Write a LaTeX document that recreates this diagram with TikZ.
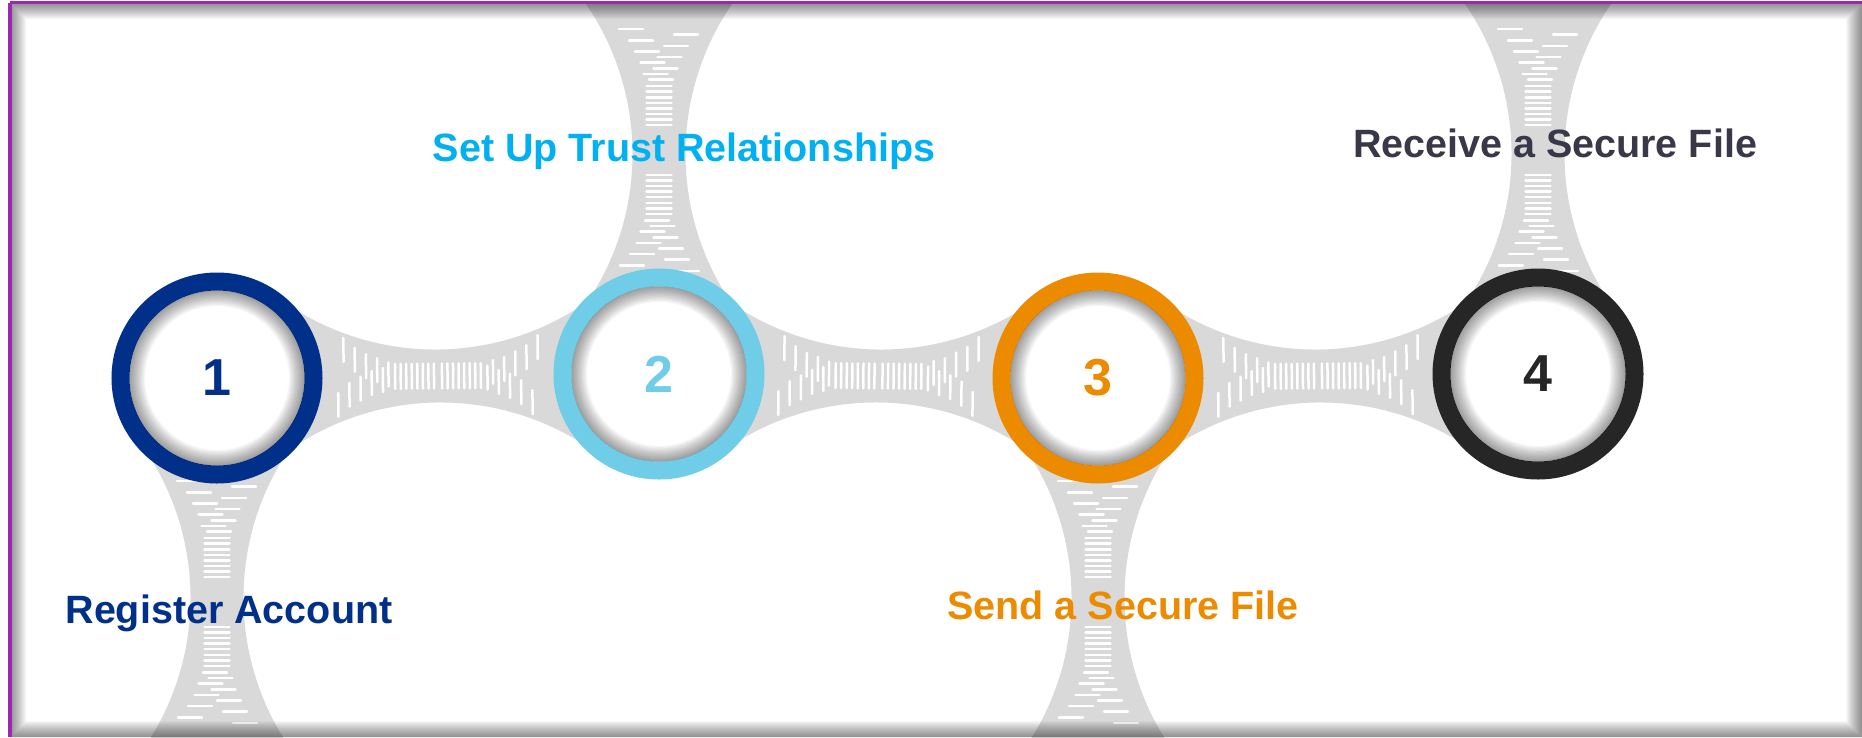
\documentclass[tikz,border=0pt]{standalone}
\usepackage{fontspec}
\setmainfont{Liberation Sans}
\definecolor{navy}{RGB}{0,48,138}
\definecolor{skyring}{RGB}{112,205,232}
\definecolor{skytext}{RGB}{0,176,240}
\definecolor{orng}{RGB}{236,139,0}
\definecolor{blk}{RGB}{38,38,38}
\definecolor{slate}{RGB}{57,56,72}
\definecolor{conngray}{RGB}{217,217,217}
\definecolor{framepurple}{RGB}{156,39,176}
\tikzset{
  connfill/.style={fill=conngray},
  dashln/.style={draw=white,line width=2.5pt,line cap=round},
  ringnode/.style={circle,minimum size=193pt,inner sep=0pt,line width=18pt,draw=#1,fill=white},
  numtext/.style={inner sep=0pt,font=\fontsize{52}{56}\selectfont\bfseries},
  lbl/.style={inner sep=0pt,font=\fontsize{39.5}{45}\selectfont\bfseries}
}
\newcommand{\connshape}[1]{%
  \fill[connfill] (0,0) -- ({#1-152},74.4) arc[start angle=235,end angle=305,radius=265]
    -- ({2*#1},0) -- ({#1+152},-74.4) arc[start angle=55,end angle=125,radius=265] -- cycle;}
\newcommand{\conndashes}[2]{%
  \foreach \k in {0,...,7}{
    \draw[dashln] ({#1+#2+5.55*\k},-12.5) -- ++(0,25);
    \draw[dashln] ({#1-#2-5.55*\k},-12.5) -- ++(0,25);}
  \foreach \k/\off in {0/2,1/-3.5,2/6.5,3/-6.5,4/10.5,5/-12,6/17,7/-18,8/27,9/-28}{
    \draw[dashln] ({#1+#2+45.5+5.6*\k},{\off-12}) -- ++(0,24);
    \draw[dashln] ({#1-#2-45.5-5.6*\k},{-\off-12}) -- ++(0,24);}}
\newcommand{\hconn}[2]{%
  \path (#1.center); \pgfgetlastxy{\ax}{\ay}
  \path (#2.center); \pgfgetlastxy{\bx}{\by}
  \pgfmathsetmacro{\cang}{atan2((\by)-(\ay),(\bx)-(\ax))}
  \pgfmathsetmacro{\cmid}{veclen((\bx)-(\ax),(\by)-(\ay))/2}
  \begin{scope}[shift={(#1.center)},rotate=\cang]
    \connshape{\cmid}
    \conndashes{\cmid}{4}
  \end{scope}}
\newcommand{\vconn}[2]{%
  \begin{scope}[shift={(#1.center)},rotate=#2]
    \connshape{220}
    \conndashes{224}{25}
  \end{scope}}
\newcommand{\innershadow}[1]{%
  \foreach \i in {1,...,12}{
    \fill[black,opacity=0.035,even odd rule] (#1.center) circle (87.5) circle ({87.5-1.3*\i});}}
\begin{document}
\begin{tikzpicture}[x=1pt,y=-1pt]
\useasboundingbox (0,0) rectangle (1862,737);
\fill[white] (0,0) rectangle (1862,737);
% step circles (nodes), placed first so connectors can refer to them
\path (217,378) coordinate (p1) (659,374) coordinate (p2) (1098,378) coordinate (p3) (1538,374) coordinate (p4);
\node[circle,minimum size=193pt,inner sep=0pt] (c1) at (p1) {};
\node[circle,minimum size=193pt,inner sep=0pt] (c2) at (p2) {};
\node[circle,minimum size=193pt,inner sep=0pt] (c3) at (p3) {};
\node[circle,minimum size=193pt,inner sep=0pt] (c4) at (p4) {};
% connectors
\begin{scope}
  \clip (10,3) rectangle (1862,737);
  \hconn{c1}{c2}
  \hconn{c2}{c3}
  \hconn{c3}{c4}
  \vconn{c1}{-90}
  \vconn{c2}{90}
  \vconn{c3}{-90}
  \vconn{c4}{90}
\end{scope}
% rings
\node[ringnode=navy] (r1) at (c1) {};
\node[ringnode=skyring] (r2) at (c2) {};
\node[ringnode=orng] (r3) at (c3) {};
\node[ringnode=blk] (r4) at (c4) {};
\innershadow{r1}
\innershadow{r2}
\innershadow{r3}
\innershadow{r4}
\node[numtext,text=navy] (n1) at (r1) {1};
\node[numtext,text=skyring] (n2) at (r2) {2};
\node[numtext,text=orng] (n3) at (r3) {3};
\node[numtext,text=blk] (n4) at (r4) {4};
% labels
\node[lbl,text=navy,anchor=base] (t1) at (229,623) {Register Account};
\node[lbl,text=skytext,anchor=base] (t2) at (684,161) {Set Up Trust Relationships};
\node[lbl,text=orng,anchor=base] (t3) at (1123,619) {Send a Secure File};
\node[lbl,text=slate,anchor=base] (t4) at (1555,157) {Receive a Secure File};
% frame inner shadow
\foreach \i in {1,...,16}{
  \fill[black,opacity=0.03,even odd rule] (10,3) rectangle (1862,737) ({10+\i},{3+\i}) rectangle ({1862-\i},{737-\i});}
\draw[framepurple,line width=3.2pt] (10,2.6) -- (1862,2.6);
\draw[framepurple,line width=3.2pt] (10,2.6) -- (10,737);
\end{tikzpicture}
\end{document}
